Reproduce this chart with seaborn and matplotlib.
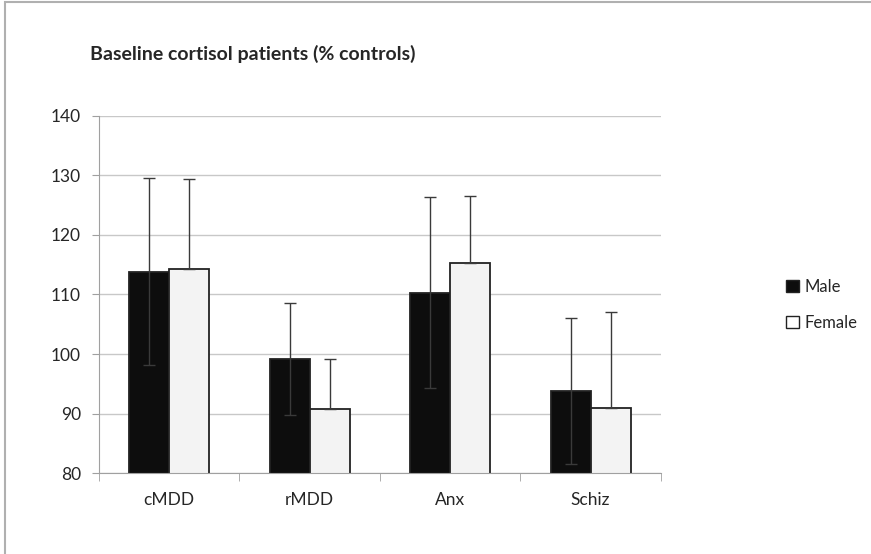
import pandas as pd
import seaborn as sns
import matplotlib.pyplot as plt
from matplotlib.patches import Rectangle

groups = ['cMDD', 'rMDD', 'Anx', 'Schiz']
male = [113.8, 99.2, 110.3, 93.8]
female = [114.3, 90.8, 115.2, 91.0]
male_err = [15.7, 9.4, 16.0, 12.2]
female_err = [15.0, 8.4, 11.3, 16.1]

df = pd.DataFrame({
    'group': groups * 2,
    'sex': ['Male'] * 4 + ['Female'] * 4,
    'value': male + female,
})

sns.set_style('white')
plt.rcParams['font.family'] = ['Lato', 'DejaVu Sans']

fig = plt.figure(figsize=(8.71, 5.54), dpi=100)
ax = fig.add_axes([0.1137, 0.1457, 0.645, 0.6455])

sns.barplot(data=df, x='group', y='value', hue='sex', order=groups,
            hue_order=['Male', 'Female'], palette={'Male': '#0d0d0d', 'Female': '#f3f3f3'},
            width=0.57, edgecolor='#222222', linewidth=1.3, ax=ax, legend=False)

# error bars: male both ways, female upwards only
n = len(groups)
for i, p in enumerate(ax.patches[:2 * n]):
    x = p.get_x() + p.get_width() / 2
    h = p.get_height()
    if i < n:
        yerr = [[male_err[i]], [male_err[i]]]
    else:
        yerr = [[0], [female_err[i - n]]]
    ax.errorbar(x, h, yerr=yerr, fmt='none', ecolor='#3a3a3a', elinewidth=1.0,
                capsize=4, capthick=1.0, zorder=5)

ax.set_ylim(80, 140)
ax.set_yticks(range(80, 141, 10))
ax.set_xlim(-0.5, n - 0.5)
ax.yaxis.grid(True, color='#c8c8c8', linewidth=1)
ax.set_axisbelow(True)
for s in ['top', 'right']:
    ax.spines[s].set_visible(False)
ax.spines['left'].set_color('#a0a0a0')
ax.spines['bottom'].set_color('#a0a0a0')
ax.tick_params(axis='y', left=True, length=5, color='#a0a0a0', labelsize=12.5, pad=8)
ax.tick_params(axis='x', bottom=False, labelsize=12.5, pad=10)
ax.set_xticks([i - 0.5 for i in range(n + 1)], minor=True)
ax.tick_params(axis='x', which='minor', bottom=True, length=6, color='#a0a0a0')
ax.set_xlabel('')
ax.set_ylabel('')

fig.text(0.103, 0.902, 'Baseline cortisol patients (% controls)', fontsize=14,
         fontweight='bold', ha='left', va='center')

handles = [Rectangle((0, 0), 1, 1, facecolor='#0d0d0d', edgecolor='#222222'),
           Rectangle((0, 0), 1, 1, facecolor='white', edgecolor='#222222')]
fig.legend(handles, ['Male', 'Female'], loc='center left', bbox_to_anchor=(0.885, 0.45),
           frameon=False, fontsize=12, handlelength=0.8, handleheight=0.8,
           handletextpad=0.3, labelspacing=1.2)

# outer frame on top and left
fig.patches.append(Rectangle((0.006, -0.5), 2.0, 1.497, transform=fig.transFigure,
                             fill=False, edgecolor='#b0b0b0', linewidth=1.5))

fig.savefig('out.png', dpi=100)
